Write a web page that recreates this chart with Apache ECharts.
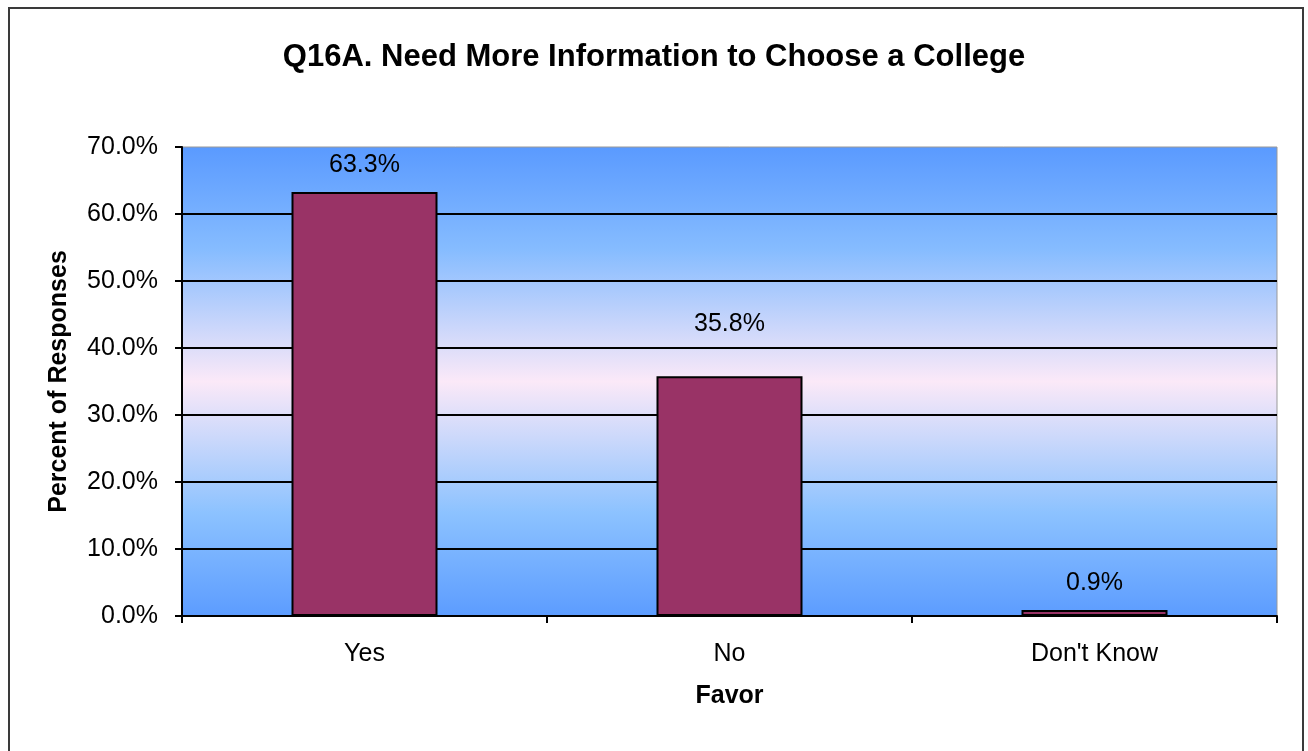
<!DOCTYPE html>
<html>
<head>
<meta charset="utf-8">
<script src="https://cdn.jsdelivr.net/npm/echarts@6/dist/echarts.min.js"></script>
<style>
  html, body { margin: 0; padding: 0; background: #fff; }
  .frame {
    position: absolute; left: 8px; top: 7px; width: 1296px; height: 760px;
    border: 2px solid #3a3a3a; box-sizing: border-box;
  }
  #chart { position: absolute; left: 0; top: 0; width: 1308px; height: 751px; }
</style>
</head>
<body>
<div class="frame"></div>
<div id="chart"></div>
<script>
// data
var categories = ['Yes', 'No', "Don't Know"];
var percents = [63.3, 35.8, 0.9];
var yTicks = [0, 10, 20, 30, 40, 50, 60, 70];

var labelGap = [14, 40, 14]; // excel put the "No" label higher

var chart = echarts.init(document.getElementById('chart'));
var font = 'Liberation Sans, Arial, sans-serif';

chart.setOption({
  animation: false,
  title: {
    text: 'Q16A. Need More Information to Choose a College',
    left: 'center',
    top: 37,
    textStyle: { fontFamily: font, fontSize: 31, fontWeight: 'bold', color: '#000' }
  },
  grid: {
    left: 182, right: 31, top: 147, bottom: 135,
    show: true,
    borderColor: '#999',
    borderWidth: 1,
    backgroundColor: new echarts.graphic.LinearGradient(0, 0, 0, 1, [
      { offset: 0, color: '#5a9aff' },
      { offset: 0.22, color: '#86bcff' },
      { offset: 0.5, color: '#fbe9f8' },
      { offset: 0.78, color: '#8cc2ff' },
      { offset: 1, color: '#5c9cff' }
    ])
  },
  xAxis: {
    type: 'category',
    data: categories,
    name: 'Favor',
    nameLocation: 'middle',
    nameGap: 68,
    nameTextStyle: { fontFamily: font, fontSize: 25, fontWeight: 'bold', color: '#000' },
    axisLine: { lineStyle: { color: '#000', width: 2 } },
    axisTick: { show: true, length: 7, lineStyle: { color: '#000', width: 2 } },
    axisLabel: { fontFamily: font, fontSize: 25, color: '#000', margin: 26 }
  },
  yAxis: {
    type: 'value',
    min: yTicks[0],
    max: yTicks[yTicks.length - 1],
    interval: 10,
    name: 'Percent of Responses',
    nameLocation: 'middle',
    nameGap: 110,
    nameTextStyle: { fontFamily: font, fontSize: 25, fontWeight: 'bold', color: '#000' },
    axisLine: { show: true, lineStyle: { color: '#000', width: 2 } },
    axisTick: { show: true, length: 7, lineStyle: { color: '#000', width: 2 } },
    axisLabel: {
      fontFamily: font, fontSize: 25, color: '#000', margin: 24,
      formatter: function (v) { return v.toFixed(1) + '%'; }
    },
    splitLine: { show: true, showMaxLine: false, lineStyle: { color: '#000', width: 2 } }
  },
  series: [{
    type: 'bar',
    barCategoryGap: '60%',
    data: percents.map(function (v, i) {
      return { value: v, label: { distance: labelGap[i] } };
    }),
    itemStyle: { color: '#993366', borderColor: '#000', borderWidth: 2 },
    label: {
      show: true,
      position: 'top',
      fontFamily: font, fontSize: 25, color: '#000',
      formatter: function (p) { return p.value.toFixed(1) + '%'; }
    }
  }]
});
</script>
</body>
</html>
